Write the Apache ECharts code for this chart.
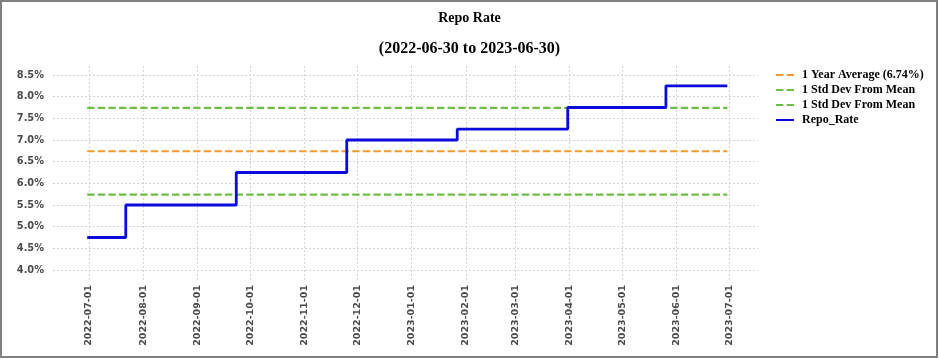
<!DOCTYPE html>
<html><head><meta charset="utf-8">
<script src="https://cdn.jsdelivr.net/npm/echarts@6/dist/echarts.min.js"></script>
<style>html,body{margin:0;padding:0;background:#fff}#c{width:939px;height:359px}</style>
</head><body><div id="c"></div>
<script>
const chartTitle = 'Repo Rate';
const chartSubtitle = '(2022-06-30 to 2023-06-30)';
const rateDates = ['2022-06-30','2022-07-22','2022-09-23','2022-11-25','2023-01-27','2023-03-31','2023-05-26','2023-06-30'];
const rateValues = [4.75, 5.5, 6.25, 7.0, 7.25, 7.75, 8.25, 8.25];
const periodDates = ['2022-06-30','2023-06-30'];
const averageValue = 6.74;
const upperStdValue = 7.74;
const lowerStdValue = 5.74;
const seriesNames = ['1 Year Average (6.74%)', '1 Std Dev From Mean', '1 Std Dev From Mean ', 'Repo_Rate'];
const monthTicks = ['2022-07-01','2022-08-01','2022-09-01','2022-10-01','2022-11-01','2022-12-01','2023-01-01','2023-02-01','2023-03-01','2023-04-01','2023-05-01','2023-06-01','2023-07-01'];
const yTickMin = 4.0, yTickMax = 8.5, yTickStep = 0.5;

function ts(s){const [y,m,d]=s.split('-').map(Number);return Date.UTC(y,m-1,d);}
function fmt(v){const d=new Date(v);const p=n=>String(n).padStart(2,'0');return d.getUTCFullYear()+'-'+p(d.getUTCMonth()+1)+'-'+p(d.getUTCDate());}
const HOUR = 3600000;
const xMin = ts('2022-06-10') + 12*HOUR;
const xMax = ts('2023-07-17') + 12*HOUR;
const tickVals = monthTicks.map(ts);

const serifFont = 'Liberation Serif';
const labelFont = 'DejaVu Sans';
const gridStyle = {color:'#d4d4d4', width:1, type:[2,2]};

function flat(v){return periodDates.map(d=>[ts(d), v]);}
const dash = [7.4, 3.2];

const chart = echarts.init(document.getElementById('c'), null, {renderer:'canvas'});
chart.setOption({
  animation:false,
  backgroundColor:'#fff',
  title:[
    {text:chartTitle, left:'center', top:6, textStyle:{fontFamily:serifFont, fontWeight:'bold', fontSize:14, color:'#000'}},
    {text:chartSubtitle, left:'center', top:36, textStyle:{fontFamily:serifFont, fontWeight:'bold', fontSize:16, color:'#000'}}
  ],
  graphic:[{type:'rect', shape:{x:1, y:1, width:936, height:356}, style:{fill:null, stroke:'#808080', lineWidth:2}, silent:true, z:100}],
  legend:{
    orient:'vertical', left:775, top:69, padding:0, itemWidth:18, itemHeight:10, itemGap:3,
    data:seriesNames,
    itemStyle:{opacity:0},
    textStyle:{fontFamily:serifFont, fontWeight:'bold', fontSize:12, color:'#000', padding:[0,0,0,3]}
  },
  grid:[
    {left:53, right:181, top:75, bottom:89, containLabel:false},
    {left:53, right:181, top:66, bottom:79, containLabel:false}
  ],
  xAxis:[
    {type:'value', gridIndex:0, min:xMin, max:xMax, show:false, splitLine:{show:false}},
    {type:'value', gridIndex:1, min:xMin, max:xMax,
      axisLine:{show:false},
      axisTick:{show:false, customValues:tickVals},
      axisLabel:{customValues:tickVals, rotate:90, margin:5, formatter:v=>fmt(v), fontFamily:labelFont, fontWeight:'bold', fontSize:9.5, color:'#4a4a4a'},
      splitLine:{show:true, lineStyle:gridStyle}
    }
  ],
  yAxis:[
    {type:'value', gridIndex:0, min:yTickMin, max:yTickMax, interval:yTickStep,
      axisLine:{show:false}, axisTick:{show:false},
      axisLabel:{margin:9, formatter:v=>v.toFixed(1)+'%', fontFamily:labelFont, fontWeight:'bold', fontSize:9.8, color:'#4a4a4a'},
      splitLine:{show:true, lineStyle:gridStyle}
    },
    {type:'value', gridIndex:1, min:0, max:1, show:false, splitLine:{show:false}}
  ],
  series:[
    {name:seriesNames[0], type:'line', xAxisIndex:0, yAxisIndex:0, data:flat(averageValue), symbol:'none', color:'#f39a2e', lineStyle:{width:2.2, type:dash, color:'#f39a2e'}},
    {name:seriesNames[1], type:'line', xAxisIndex:0, yAxisIndex:0, data:flat(upperStdValue), symbol:'none', color:'#6fbe44', lineStyle:{width:2.2, type:dash, color:'#6fbe44'}},
    {name:seriesNames[2], type:'line', xAxisIndex:0, yAxisIndex:0, data:flat(lowerStdValue), symbol:'none', color:'#6fbe44', lineStyle:{width:2.2, type:dash, color:'#6fbe44'}},
    {name:seriesNames[3], type:'line', xAxisIndex:0, yAxisIndex:0, step:'end', data:rateDates.map((d,i)=>[ts(d), rateValues[i]]), symbol:'none', color:'#0b0bdc', lineStyle:{width:2.8, color:'#0b0bdc'}}
  ]
});
</script></body></html>
